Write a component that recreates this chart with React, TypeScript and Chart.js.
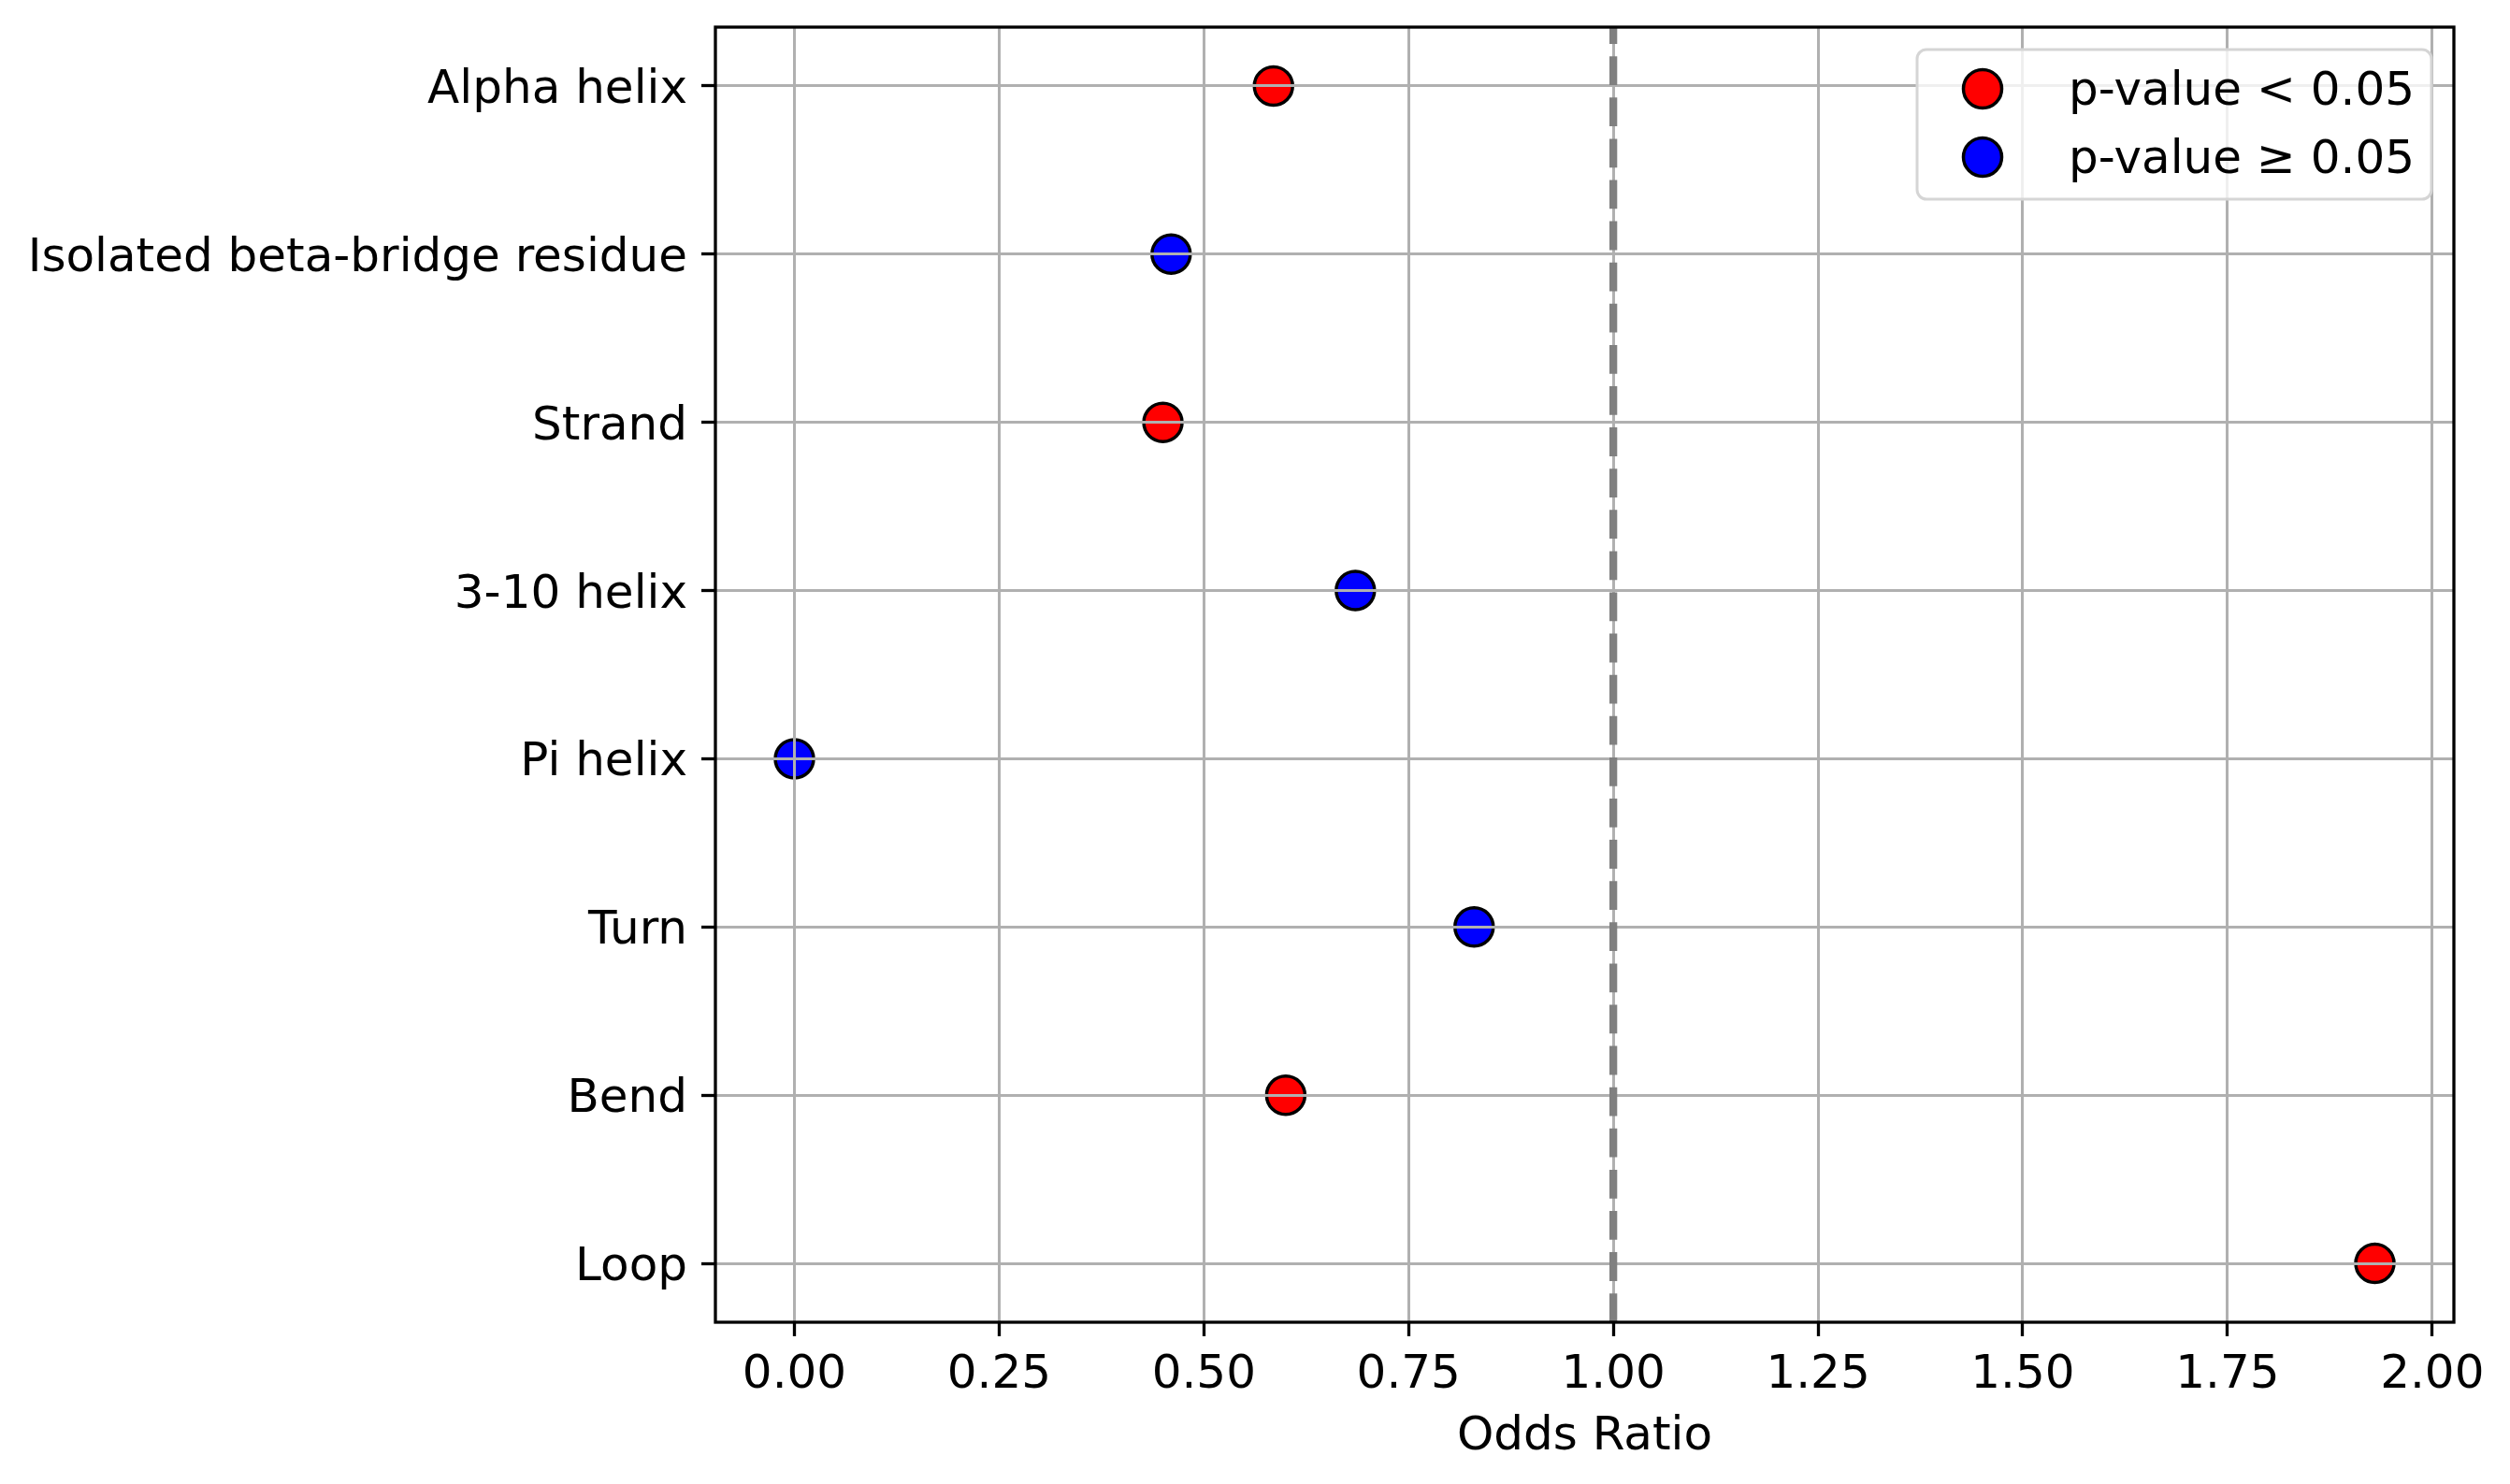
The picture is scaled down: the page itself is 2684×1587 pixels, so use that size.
import { useEffect, useRef } from "react"
import { Chart, registerables, type ChartConfiguration, type Plugin } from "chart.js"

Chart.register(...registerables)

const categories = [
  "Alpha helix",
  "Isolated beta-bridge residue",
  "Strand",
  "3-10 helix",
  "Pi helix",
  "Turn",
  "Bend",
  "Loop",
]
const oddsRatios = [0.585, 0.46, 0.45, 0.685, 0.0, 0.83, 0.6, 1.93]
const significant = [true, false, true, false, false, false, true, true]
const xTicks = [0, 0.25, 0.5, 0.75, 1, 1.25, 1.5, 1.75, 2]
const legendLabels = ["p-value < 0.05", "p-value \u2265 0.05"]
const groupColors = ["#ff0000", "#0000ff"]
const referenceLine = 1

const FONT = "DejaVu Sans"
const FONT_SIZE = 50

const overlay: Plugin<"scatter"> = {
  id: "overlay",
  afterDraw(chart) {
    const { ctx, chartArea, scales } = chart
    const px = scales.x.getPixelForValue(referenceLine)

    // dashed reference line at OR = 1
    ctx.save()
    ctx.strokeStyle = "#808080"
    ctx.lineWidth = 8.3
    ctx.lineCap = "butt"
    ctx.setLineDash([30.8, 13.3])
    ctx.beginPath()
    ctx.moveTo(px, chartArea.bottom)
    ctx.lineTo(px, chartArea.top)
    ctx.stroke()
    ctx.restore()

    // legend box, top right inside the axes
    const boxW = 550
    const boxH = 160
    const boxX = chartArea.right - 24 - boxW
    const boxY = chartArea.top + 24
    ctx.save()
    ctx.fillStyle = "rgba(255,255,255,0.8)"
    ctx.strokeStyle = "#d5d5d5"
    ctx.lineWidth = 3
    ctx.beginPath()
    ctx.roundRect(boxX, boxY, boxW, boxH, 10)
    ctx.fill()
    ctx.stroke()
    ctx.font = `${FONT_SIZE}px "${FONT}"`
    ctx.textBaseline = "middle"
    ctx.textAlign = "left"
    legendLabels.forEach((label, i) => {
      const cy = boxY + 42 + i * 73
      ctx.beginPath()
      ctx.arc(boxX + 70, cy, 20.5, 0, Math.PI * 2)
      ctx.fillStyle = groupColors[i]
      ctx.fill()
      ctx.lineWidth = 3.5
      ctx.strokeStyle = "#000"
      ctx.stroke()
      ctx.fillStyle = "#000"
      ctx.fillText(label, boxX + 162, cy + 4)
    })
    ctx.restore()

    // axes frame
    ctx.save()
    ctx.strokeStyle = "#000"
    ctx.lineWidth = 3.3
    ctx.strokeRect(chartArea.left, chartArea.top, chartArea.width, chartArea.height)
    ctx.restore()
  },
}

export default function App() {
  const chartRef = useRef<HTMLCanvasElement>(null)
  const chartInstance = useRef<Chart | null>(null)

  useEffect(() => {
    document.body.style.margin = "0"
    if (!chartRef.current) return
    const ctx = chartRef.current.getContext("2d")
    if (!ctx) return

    if (chartInstance.current) {
      chartInstance.current.destroy()
    }

    const points = oddsRatios.map((v, i) => ({ x: v, y: i }))
    const span = Math.max(...oddsRatios) - Math.min(...oddsRatios)
    const margin = span * 0.05

    const config: ChartConfiguration<"scatter"> = {
      type: "scatter",
      data: {
        datasets: [
          {
            label: legendLabels[0],
            data: points.filter((_, i) => significant[i]),
            backgroundColor: groupColors[0],
            borderColor: "#000",
            borderWidth: 3.5,
            pointRadius: 20.5,
            pointHoverRadius: 20.5,
          },
          {
            label: legendLabels[1],
            data: points.filter((_, i) => !significant[i]),
            backgroundColor: groupColors[1],
            borderColor: "#000",
            borderWidth: 3.5,
            pointRadius: 20.5,
            pointHoverRadius: 20.5,
          },
        ],
      },
      options: {
        responsive: false,
        animation: false,
        devicePixelRatio: 1,
        layout: { padding: { left: 0, right: 60, top: 29, bottom: 0 } },
        plugins: {
          legend: { display: false },
          tooltip: { enabled: false },
        },
        scales: {
          x: {
            type: "linear",
            min: Math.min(...oddsRatios) - margin,
            max: Math.max(...oddsRatios) + margin,
            afterBuildTicks: (scale) => {
              scale.ticks = xTicks.map((value) => ({ value }))
            },
            afterFit: (scale) => {
              scale.height = 173
            },
            grid: {
              z: 1,
              color: "#b0b0b0",
              lineWidth: 3,
              tickColor: "#000",
              tickWidth: 3.3,
              tickLength: 15,
            },
            border: { display: false },
            ticks: {
              color: "#000",
              padding: 12,
              maxRotation: 0,
              font: { family: FONT, size: FONT_SIZE, lineHeight: 1.2 },
              callback: (value) => Number(value).toFixed(2),
            },
            title: {
              display: true,
              text: "Odds Ratio",
              color: "#000",
              font: { family: FONT, size: FONT_SIZE, lineHeight: 1.2 },
              padding: { top: 0, bottom: 20 },
            },
          },
          y: {
            type: "linear",
            reverse: true,
            min: -0.35,
            max: categories.length - 1 + 0.35,
            afterBuildTicks: (scale) => {
              scale.ticks = categories.map((_, i) => ({ value: i }))
            },
            afterFit: (scale) => {
              scale.width = 765
              scale.paddingTop = 0
              scale.paddingBottom = 0
            },
            grid: {
              z: 1,
              color: "#b0b0b0",
              lineWidth: 3,
              tickColor: "#000",
              tickWidth: 3.3,
              tickLength: 15,
            },
            border: { display: false },
            ticks: {
              color: "#000",
              padding: 15,
              labelOffset: 5,
              font: { family: FONT, size: FONT_SIZE, lineHeight: 1.2 },
              callback: (value) => categories[Number(value)] ?? "",
            },
          },
        },
      },
      plugins: [overlay],
    }

    chartInstance.current = new Chart(ctx, config)

    return () => {
      if (chartInstance.current) {
        chartInstance.current.destroy()
        chartInstance.current = null
      }
    }
  }, [])

  return (
    <div style={{ width: 2684, height: 1587 }}>
      <canvas ref={chartRef} width={2684} height={1587} style={{ display: "block" }} />
    </div>
  )
}
